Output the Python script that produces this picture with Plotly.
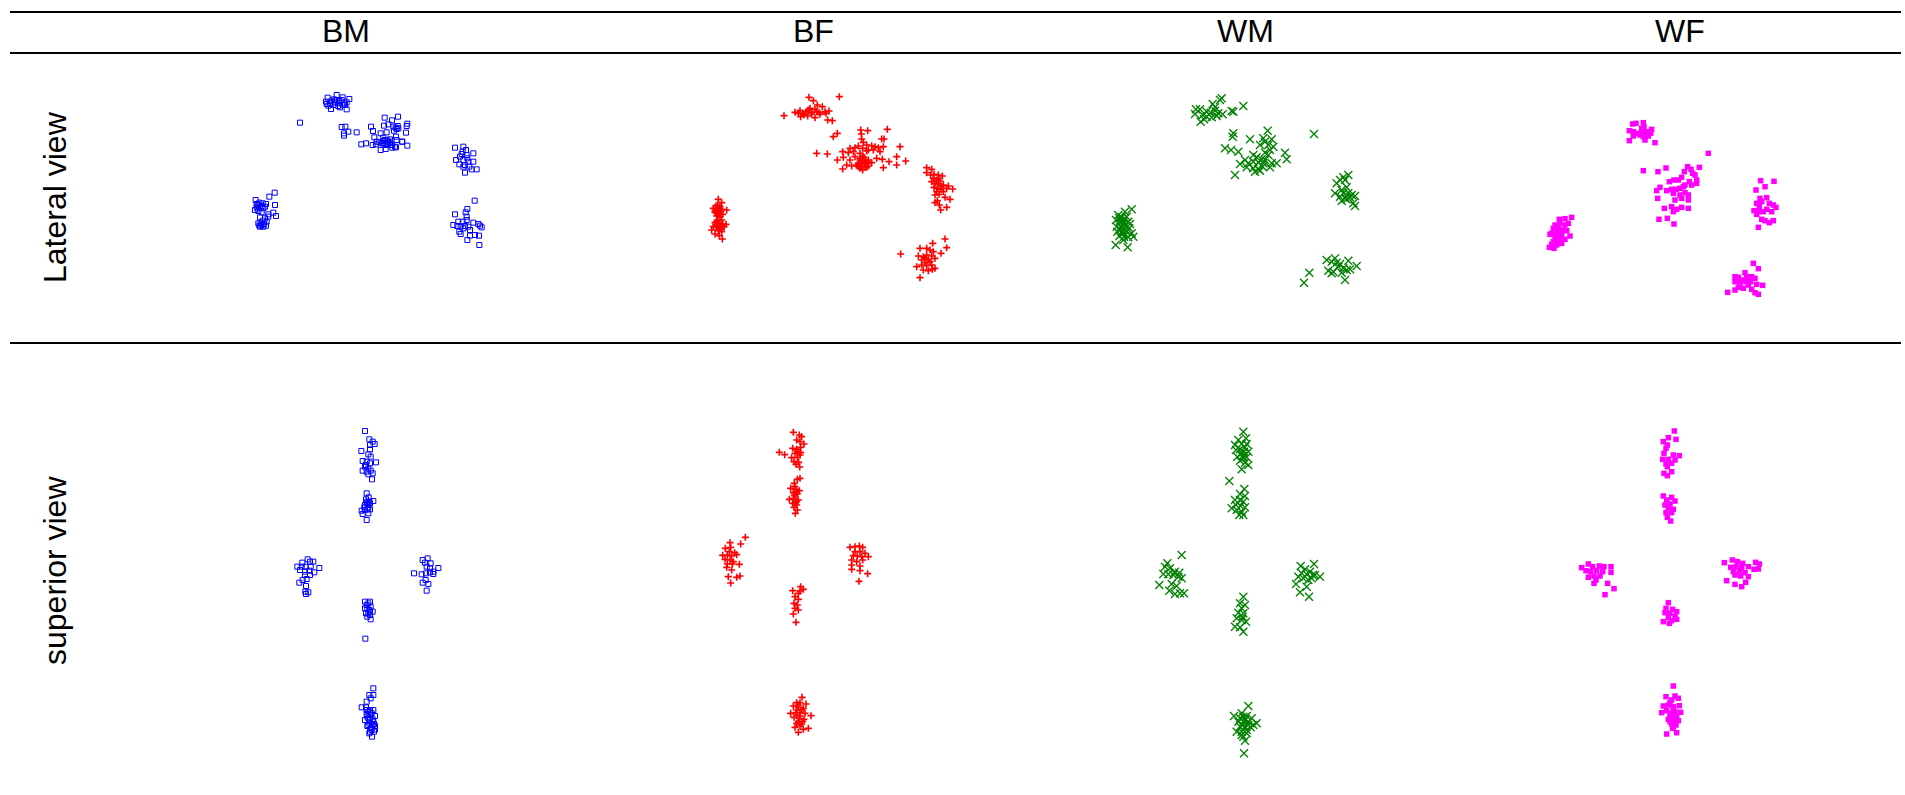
import plotly.graph_objects as go

FIG_W, FIG_H = 1905, 795

GROUPS = ["BM", "BF", "WM", "WF"]
VIEWS = ["Lateral view", "superior view"]

# Digitised landmark coordinates, one list per group and view.
# Units: 1/3 pixel of the drawing frame, y growing downward.
BM_LATERAL = [
    (240, 128),
    (323, 53), (350, 45), (368, 52), (388, 57), (318, 65), (335, 62), (345, 68), (358, 63),
    (372, 70), (380, 67), (325, 77), (340, 75), (355, 78), (368, 74), (333, 87), (360, 82),
    (380, 88), (350, 60), (365, 60), (342, 58), (375, 75), (320, 72), (345, 65), (358, 70),
    (330, 70),
    (365, 141), (376, 140), (385, 155), (372, 167), (410, 157), (372, 160),
    (494, 113), (534, 110), (516, 121), (453, 140), (492, 137), (505, 133), (520, 140), (533, 138),
    (562, 131), (560, 138), (459, 153), (482, 160), (500, 157), (522, 152), (530, 147), (558, 158),
    (463, 172), (490, 173), (500, 180), (510, 185), (528, 170), (530, 180), (547, 185), (424, 193),
    (438, 190), (458, 195), (468, 193), (478, 187), (487, 190), (497, 192), (505, 190), (515, 195),
    (525, 200), (482, 210), (497, 207), (517, 203), (528, 202), (562, 197), (546, 185), (490, 183),
    (470, 185), (535, 145), (527, 143), (510, 178), (495, 180), (505, 185), (512, 190), (500, 195),
    (490, 190),
    (705, 203), (730, 200), (738, 210), (728, 215), (760, 220), (720, 230), (740, 225), (708, 240),
    (730, 240), (745, 245), (760, 245), (718, 253), (735, 255), (748, 260), (755, 268), (770, 268),
    (735, 278), (730, 260), (742, 235), (725, 222),
    (764, 362), (742, 387), (737, 397), (705, 403), (740, 410), (715, 425), (728, 425), (700, 435),
    (712, 438), (722, 440), (735, 438), (745, 440), (760, 428), (775, 432), (780, 437), (785, 442),
    (750, 450), (718, 455), (722, 462), (750, 467), (765, 465), (777, 467), (742, 480), (778, 495),
    (730, 445), (740, 420),
    (164, 338), (148, 350), (107, 360), (165, 375), (118, 368), (128, 370), (138, 372), (110, 380),
    (120, 382), (130, 385), (105, 390), (115, 393), (125, 397), (160, 398), (168, 408), (145, 410),
    (120, 412), (135, 415), (128, 422), (140, 425), (115, 430), (125, 435), (138, 437), (130, 440),
    (120, 440), (110, 372), (135, 380), (145, 403), (115, 375), (125, 378), (112, 385), (122, 430),
    (132, 432), (118, 437),
]

BF_LATERAL = [
    (387, 52), (478, 50), (400, 62), (412, 75), (427, 80), (312, 107), (345, 97), (360, 92),
    (368, 100), (378, 95), (385, 90), (395, 97), (405, 88), (418, 98), (435, 95), (447, 93),
    (362, 110), (372, 105), (383, 108), (395, 102), (405, 113), (420, 103), (438, 100), (443, 120),
    (457, 122), (355, 100), (390, 85), (410, 95),
    (542, 150), (563, 152), (622, 148), (544, 162), (460, 170), (472, 160), (545, 177), (605, 177),
    (612, 177), (550, 187), (560, 195), (575, 197), (585, 200), (510, 205), (525, 203), (535, 198),
    (548, 205), (565, 210), (580, 210), (595, 203), (610, 200), (660, 200), (410, 220), (442, 222),
    (488, 215), (505, 218), (520, 215), (540, 220), (560, 213), (600, 215), (490, 232), (510, 240),
    (525, 230), (540, 240), (555, 245), (565, 240), (575, 248), (590, 235), (607, 238), (627, 245),
    (650, 230), (677, 243), (472, 240), (500, 255), (515, 258), (530, 255), (545, 260), (555, 252),
    (565, 258), (610, 263), (650, 255), (488, 267), (540, 265), (548, 270), (560, 262), (545, 248),
    (535, 250), (552, 232), (540, 235), (550, 240), (560, 245), (545, 255), (555, 262), (535, 260),
    (565, 250), (548, 228),
    (740, 263), (755, 268), (740, 278), (752, 285), (762, 283), (775, 285), (787, 288), (760, 295),
    (770, 300), (780, 303), (755, 305), (765, 310), (775, 312), (790, 315), (805, 318), (818, 327),
    (762, 322), (772, 325), (782, 328), (800, 325), (770, 335), (790, 335), (765, 345), (777, 343),
    (795, 352), (810, 358), (772, 362), (765, 368), (778, 375), (800, 382), (782, 390), (785, 318),
    (775, 295),
    (795, 477), (758, 490), (800, 503), (720, 505), (740, 505), (750, 510), (760, 515), (783, 520),
    (662, 522), (715, 528), (730, 530), (740, 525), (755, 528), (765, 535), (725, 540), (745, 540),
    (735, 548), (710, 560), (725, 555), (740, 557), (755, 555), (765, 565), (730, 570), (745, 572),
    (757, 568), (720, 593), (735, 535), (750, 545),
    (115, 358), (125, 368), (108, 378), (120, 380), (100, 385), (113, 390), (125, 388), (140, 390),
    (105, 398), (118, 400), (128, 403), (110, 408), (120, 410), (112, 420), (105, 428), (118, 430),
    (128, 433), (138, 433), (100, 440), (110, 440), (122, 442), (132, 440), (95, 450), (115, 452),
    (125, 455), (105, 462), (118, 467), (127, 477), (115, 395), (108, 435), (112, 375), (118, 385),
    (105, 392), (122, 395), (115, 405), (125, 420), (110, 425), (120, 435), (115, 445), (125, 448),
]

WM_LATERAL = [
    (425, 55), (490, 78), (348, 88), (360, 88), (398, 72), (405, 82), (380, 95), (392, 98),
    (405, 92), (415, 100), (428, 103), (455, 93), (460, 95), (345, 102), (368, 105), (380, 110),
    (395, 112), (410, 108), (362, 125), (372, 118), (420, 60),
    (460, 160), (458, 170), (510, 178), (563, 152), (550, 175), (575, 178), (555, 185), (540, 195),
    (565, 195), (580, 200), (435, 205), (453, 210), (475, 215), (570, 210), (520, 225), (530, 232),
    (545, 238), (555, 240), (565, 225), (555, 218), (615, 218), (620, 238), (495, 240), (505, 250),
    (520, 245), (535, 247), (550, 250), (575, 250), (590, 250), (480, 252), (500, 262), (520, 265),
    (535, 268), (548, 260), (570, 262), (525, 275), (540, 272), (465, 285), (702, 162),
    (805, 285), (790, 292), (780, 300), (770, 310), (795, 300), (800, 322), (785, 330), (790, 340),
    (805, 340), (815, 345), (825, 348), (765, 340), (780, 350), (795, 355), (810, 352), (785, 362),
    (820, 370), (825, 378), (800, 358),
    (740, 540), (765, 535), (755, 545), (770, 548), (780, 552), (805, 542), (745, 572), (760, 575),
    (775, 560), (790, 565), (800, 570), (810, 568), (830, 558), (785, 578), (755, 580), (795, 600),
    (688, 578), (672, 608),
    (155, 388), (135, 395), (115, 405), (125, 412), (140, 410), (108, 420), (120, 422), (132, 425),
    (145, 425), (150, 432), (110, 440), (122, 440), (135, 438), (148, 445), (112, 455), (125, 455),
    (140, 455), (155, 460), (160, 470), (118, 468), (132, 470), (145, 472), (130, 480), (107, 495),
    (143, 502), (128, 462), (118, 415), (128, 420), (130, 432), (120, 448), (135, 448), (128, 455),
]

WF_LATERAL = [
    (398, 72), (408, 70), (430, 68), (388, 92), (400, 95), (413, 100), (425, 85), (432, 80),
    (440, 95), (455, 88), (420, 105), (430, 110), (445, 108), (400, 108), (435, 120), (465, 128),
    (388, 122), (452, 100), (428, 96),
    (625, 160), (430, 212), (474, 215), (498, 204), (563, 200), (573, 208), (598, 202), (553, 215),
    (578, 220), (585, 225), (545, 232), (590, 240), (508, 245), (522, 240), (535, 240), (555, 255),
    (568, 245), (575, 255), (590, 250), (480, 262), (500, 272), (515, 268), (528, 268), (540, 265),
    (550, 260), (520, 280), (540, 285), (555, 278), (565, 285), (470, 272), (473, 295), (525, 300),
    (545, 295), (565, 300), (493, 325), (515, 320), (530, 328), (545, 322), (565, 325), (520, 335),
    (477, 358), (502, 355), (522, 372),
    (782, 242), (822, 244), (795, 260), (768, 270), (780, 295), (800, 293), (770, 310), (785, 305),
    (808, 310), (820, 315), (828, 322), (762, 332), (775, 335), (790, 335), (800, 328), (815, 335),
    (770, 343), (785, 358), (795, 362), (808, 368), (820, 362), (775, 382), (778, 320),
    (760, 490), (775, 506), (735, 518), (705, 530), (715, 532), (740, 530), (755, 530), (765, 535),
    (728, 540), (705, 545), (720, 545), (738, 545), (752, 545), (720, 555), (745, 555), (770, 553),
    (788, 556), (715, 562), (730, 565), (705, 570), (755, 568), (765, 578), (775, 583), (683, 577),
    (215, 352), (195, 356), (178, 358), (165, 375), (180, 370), (195, 375), (205, 370), (160, 385),
    (175, 385), (190, 390), (200, 392), (155, 400), (170, 400), (185, 405), (210, 408), (150, 403),
    (165, 415), (180, 418), (195, 418), (160, 425), (175, 428), (185, 430), (155, 433), (170, 435),
    (148, 442), (162, 445), (170, 380), (185, 395), (175, 410), (165, 430),
]

BM_SUPERIOR = [
    (285, 33), (298, 58), (308, 65), (314, 72), (300, 75), (274, 93), (300, 88), (295, 103),
    (302, 110), (278, 123), (290, 125), (318, 127), (300, 130), (285, 140), (295, 145), (278, 152),
    (290, 155), (302, 152), (295, 163), (308, 160), (306, 178), (288, 135),
    (290, 220), (296, 232), (310, 243), (292, 245), (300, 250), (285, 255), (295, 262), (275, 272),
    (285, 270), (300, 268), (278, 282), (295, 280), (290, 300), (288, 238), (290, 250), (295, 255),
    (283, 262), (292, 268), (298, 245),
    (113, 418), (97, 428), (120, 425), (130, 425), (82, 440), (95, 440), (107, 440), (122, 440),
    (148, 444), (90, 450), (105, 455), (118, 452), (133, 457), (105, 465), (120, 465), (98, 480),
    (110, 477), (88, 488), (108, 498), (106, 515), (115, 517), (108, 522),
    (458, 420), (473, 415), (465, 428), (482, 430), (470, 440), (480, 445), (505, 444), (490, 455),
    (455, 463), (468, 460), (480, 457), (490, 462), (432, 460), (467, 480), (458, 488), (475, 492),
    (470, 512),
    (285, 545), (300, 545), (290, 555), (302, 560), (285, 565), (298, 570), (308, 575), (288, 580),
    (300, 585), (292, 590), (302, 598), (286, 656), (295, 550), (292, 565), (300, 575), (295, 580),
    (310, 805), (298, 825), (310, 825), (302, 835), (290, 845), (275, 862), (288, 862), (300, 870),
    (310, 870), (290, 882), (302, 885), (315, 888), (295, 895), (308, 898), (285, 900), (298, 908),
    (312, 912), (292, 918), (305, 922), (315, 928), (300, 935), (312, 935), (306, 950), (300, 875),
    (295, 875), (305, 880), (292, 890), (300, 898), (310, 905), (295, 915), (305, 930), (298, 940),
    (290, 870), (308, 915), (315, 918), (302, 925),
]

BF_SUPERIOR = [
    (280, 37), (298, 45), (305, 50), (290, 60), (300, 65), (312, 72), (238, 97), (254, 104),
    (278, 85), (290, 88), (302, 82), (295, 95), (285, 100), (300, 105), (275, 113), (292, 112),
    (282, 125), (296, 127), (288, 133), (299, 141), (302, 98),
    (292, 178), (300, 175), (283, 190), (272, 205), (288, 208), (298, 212), (280, 218), (292, 222),
    (268, 238), (282, 235), (295, 240), (278, 250), (290, 255), (282, 262), (292, 270), (286, 280),
    (285, 228), (285, 200), (290, 215), (283, 225), (290, 245), (285, 250),
    (136, 352), (90, 368), (122, 372), (76, 385), (92, 382), (104, 398), (68, 406), (82, 405),
    (95, 408), (110, 404), (75, 418), (90, 420), (100, 425), (82, 432), (97, 432), (118, 433),
    (80, 442), (95, 450), (85, 470), (110, 472), (120, 468), (92, 489), (88, 395),
    (478, 378), (488, 382), (450, 382), (465, 395), (480, 395), (495, 400), (460, 407), (472, 408),
    (485, 410), (505, 410), (455, 420), (470, 425), (488, 420), (455, 435), (480, 438), (455, 448),
    (480, 452), (503, 461), (477, 484), (465, 380),
    (302, 500), (278, 512), (310, 508), (295, 520), (285, 530), (295, 538), (282, 550), (292, 555),
    (285, 565), (295, 570), (280, 582), (288, 607), (300, 513),
    (306, 832), (290, 848), (300, 848), (318, 852), (280, 858), (295, 862), (310, 865), (272, 880),
    (288, 878), (300, 878), (315, 880), (333, 887), (282, 892), (298, 895), (312, 898), (290, 910),
    (305, 912), (285, 922), (300, 918), (325, 925), (295, 937), (310, 928), (295, 855), (305, 870),
    (290, 885), (300, 888), (308, 905), (295, 905), (290, 870),
]

WM_SUPERIOR = [
    (340, 35), (325, 60), (348, 55), (315, 75), (335, 72), (350, 72), (318, 90), (330, 88),
    (342, 95), (355, 95), (322, 110), (338, 108), (350, 112), (330, 122), (345, 128), (355, 135),
    (335, 148), (345, 82), (335, 100), (340, 115),
    (298, 183),
    (343, 207), (330, 222), (345, 228), (315, 240), (330, 240), (340, 245), (318, 255), (332, 258),
    (345, 262), (305, 265), (320, 270), (335, 275), (328, 285), (340, 285),
    (155, 405), (112, 430), (105, 440), (120, 445), (135, 455), (148, 458), (100, 462), (115, 463),
    (130, 465), (145, 470), (155, 475), (88, 495), (125, 492), (140, 498), (118, 512), (135, 522),
    (150, 520), (162, 520),
    (552, 432), (512, 438), (525, 448), (540, 455), (515, 460), (530, 463), (548, 465), (505, 470),
    (520, 475), (545, 475), (570, 470), (535, 480), (498, 492), (530, 500), (510, 517), (537, 530),
    (555, 465),
    (340, 530), (330, 550), (345, 555), (335, 565), (325, 578), (340, 580), (320, 595), (335, 600),
    (348, 605), (315, 620), (330, 622), (340, 635), (338, 590),
    (355, 858), (312, 888), (335, 880), (350, 888), (365, 895), (380, 910), (325, 905), (340, 905),
    (355, 905), (330, 920), (345, 920), (362, 922), (320, 935), (335, 935), (350, 940), (340, 950),
    (345, 962), (342, 1000), (370, 915), (330, 895), (340, 890), (345, 900), (338, 915), (350, 930),
    (335, 945), (355, 915),
]

WF_SUPERIOR = [
    (343, 33), (325, 53), (348, 58), (310, 65), (322, 75), (318, 85), (312, 100), (340, 105),
    (358, 107), (308, 118), (325, 118), (345, 120), (318, 132), (335, 130), (322, 140), (312, 160),
    (335, 155), (322, 167),
    (310, 228), (335, 232), (320, 240), (345, 243), (315, 255), (325, 262), (340, 268), (318, 278),
    (335, 278), (322, 292), (332, 303), (330, 252),
    (65, 443), (85, 432), (98, 440), (118, 438), (132, 440), (153, 440), (78, 452), (92, 455),
    (110, 452), (128, 455), (153, 457), (85, 472), (102, 468), (120, 468), (108, 480), (102, 490),
    (143, 490), (162, 506), (135, 524),
    (493, 428), (517, 420), (532, 425), (548, 430), (587, 427), (598, 432), (512, 442), (528, 440),
    (545, 442), (565, 440), (582, 448), (595, 447), (520, 455), (538, 452), (555, 458), (525, 465),
    (542, 468), (565, 470), (500, 482), (525, 493), (545, 500), (557, 487),
    (325, 548), (318, 565), (338, 568), (315, 578), (330, 580), (350, 575), (325, 592), (345, 590),
    (310, 605), (335, 602), (350, 598), (328, 610),
    (340, 798), (318, 830), (345, 828), (335, 840), (355, 835), (310, 858), (325, 855), (340, 860),
    (358, 857), (305, 878), (320, 872), (345, 875), (362, 877), (330, 888), (350, 890), (325, 898),
    (342, 902), (355, 902), (335, 912), (348, 915), (320, 942), (350, 938), (338, 925), (330, 848),
    (340, 870), (335, 880), (345, 895), (330, 905), (340, 920),
]

DATA = {
    (0, 0): BM_LATERAL, (0, 1): BF_LATERAL, (0, 2): WM_LATERAL, (0, 3): WF_LATERAL,
    (1, 0): BM_SUPERIOR, (1, 1): BF_SUPERIOR, (1, 2): WM_SUPERIOR, (1, 3): WF_SUPERIOR,
}

# ---- layout geometry (page pixels) ----
COL_EDGES = [100, 560, 1020, 1450, 1905]
ROW_EDGES = [53, 343, 795]
# page position of each drawing frame's (0, 0) corner
FRAME_ORIGIN = {
    (0, 0): (220, 80), (0, 1): (680, 80), (0, 2): (1080, 80), (0, 3): (1500, 100),
    (1, 0): (270, 420), (1, 1): (700, 420), (1, 2): (1130, 420), (1, 3): (1560, 420),
}
UNITS_PER_PX = 3

HEADER_X = [346, 813, 1245, 1680]
HEADER_Y = 31
ROW_LABEL_X = 55
ROW_LABEL_Y = [197, 571]
RULES_Y = [12, 53, 343]
RULE_X = (10, 1901)

FONT = "Liberation Sans, Arial, Helvetica, sans-serif"

STYLES = {
    "BM": dict(symbol="square-open", size=5, color="#0000FF", line=dict(width=1, color="#0000FF")),
    "BF": dict(symbol="cross-thin", size=5, color="#FF0000", line=dict(width=1.6, color="#FF0000")),
    "WM": dict(symbol="x-thin", size=8, color="#008000", line=dict(width=1.3, color="#008000")),
    "WF": dict(symbol="square", size=5.5, color="#FF00FF", line=dict(width=0)),
}

fig = go.Figure()
layout = {}
for (r, c), pts in DATA.items():
    k = r * 4 + c + 1
    x0, x1 = COL_EDGES[c], COL_EDGES[c + 1]
    y0, y1 = ROW_EDGES[r], ROW_EDGES[r + 1]
    ox, oy = FRAME_ORIGIN[(r, c)]
    xs = [p[0] for p in pts]
    ys = [p[1] for p in pts]
    fig.add_trace(go.Scatter(
        x=xs, y=ys, mode="markers", name=GROUPS[c], showlegend=False,
        marker=STYLES[GROUPS[c]],
        xaxis=f"x{k}", yaxis=f"y{k}",
    ))
    sfx = "" if k == 1 else str(k)
    layout[f"xaxis{sfx}"] = dict(
        domain=[x0 / FIG_W, x1 / FIG_W],
        range=[(x0 - ox) * UNITS_PER_PX, (x1 - ox) * UNITS_PER_PX],
        visible=False, anchor=f"y{k}", fixedrange=True,
    )
    layout[f"yaxis{sfx}"] = dict(
        domain=[1 - y1 / FIG_H, 1 - y0 / FIG_H],
        range=[(y1 - oy) * UNITS_PER_PX, (y0 - oy) * UNITS_PER_PX],
        visible=False, anchor=f"x{k}", fixedrange=True,
    )

shapes = [
    dict(type="line", xref="paper", yref="paper",
         x0=RULE_X[0] / FIG_W, x1=RULE_X[1] / FIG_W,
         y0=1 - yy / FIG_H, y1=1 - yy / FIG_H,
         line=dict(color="black", width=2))
    for yy in RULES_Y
]

annotations = []
for name, hx in zip(GROUPS, HEADER_X):
    annotations.append(dict(
        text=name, x=hx / FIG_W, y=1 - HEADER_Y / FIG_H, xref="paper", yref="paper",
        showarrow=False, xanchor="center", yanchor="middle",
        font=dict(family=FONT, size=32, color="black"),
    ))
for name, ly in zip(VIEWS, ROW_LABEL_Y):
    annotations.append(dict(
        text=name, x=ROW_LABEL_X / FIG_W, y=1 - ly / FIG_H, xref="paper", yref="paper",
        showarrow=False, xanchor="center", yanchor="middle", textangle=-90,
        font=dict(family=FONT, size=32, color="black"),
    ))

fig.update_layout(
    width=FIG_W, height=FIG_H,
    margin=dict(l=0, r=0, t=0, b=0),
    paper_bgcolor="white", plot_bgcolor="white",
    shapes=shapes, annotations=annotations,
    **layout,
)

fig.write_html("out.html", config={"displayModeBar": False})
